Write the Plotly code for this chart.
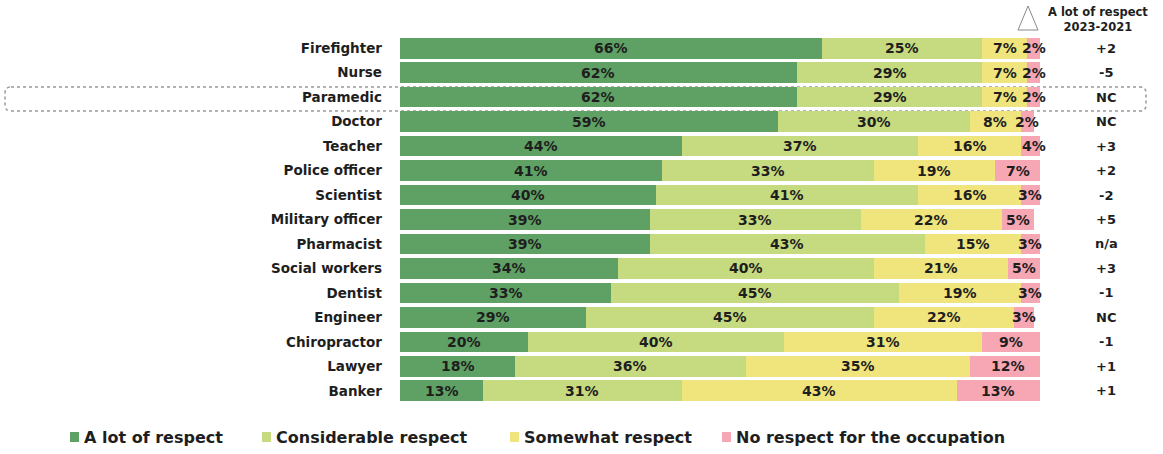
import plotly.graph_objects as go

occupations = ["Firefighter", "Nurse", "Paramedic", "Doctor", "Teacher", "Police officer",
               "Scientist", "Military officer", "Pharmacist", "Social workers", "Dentist",
               "Engineer", "Chiropractor", "Lawyer", "Banker"]
a_lot = [66, 62, 62, 59, 44, 41, 40, 39, 39, 34, 33, 29, 20, 18, 13]
considerable = [25, 29, 29, 30, 37, 33, 41, 33, 43, 40, 45, 45, 40, 36, 31]
somewhat = [7, 7, 7, 8, 16, 19, 16, 22, 15, 21, 19, 22, 31, 35, 43]
no_respect = [2, 2, 2, 2, 4, 7, 3, 5, 3, 5, 3, 3, 9, 12, 13]
change = ["+2", "-5", "NC", "NC", "+3", "+2", "-2", "+5", "n/a", "+3", "-1", "NC", "-1", "+1", "+1"]
series_names = ["A lot of respect", "Considerable respect", "Somewhat respect", "No respect for the occupation"]
header_lines = ["A lot of respect", "2023-2021"]

colors = ["#5fa164", "#c6da80", "#efe57c", "#f7a6b3"]
FONT = "DejaVu Sans"
TXT = "#1e1e1e"

# plot-area geometry in pixels
W, H = 1163, 454
L, R, T, B = 400, 123, 36, 51
PW, PH = W - L - R, H - T - B

def px(x):
    return (x - L) / PW

def py(y):
    return (H - B - y) / PH

fig = go.Figure()
series = [a_lot, considerable, somewhat, no_respect]
for name, vals, col in zip(series_names, series, colors):
    fig.add_trace(go.Bar(
        y=occupations, x=vals, name=name, orientation="h",
        marker=dict(color=col, line=dict(width=0)),
        hoverinfo="x+y+name", showlegend=False,
    ))

annotations = []
# segment labels
for i, occ in enumerate(occupations):
    cum = 0
    for vals in series:
        v = vals[i]
        annotations.append(dict(
            x=cum + v / 2, y=occ, xref="x", yref="y", text=f"<b>{v}%</b>",
            xanchor="center", yanchor="middle",
            showarrow=False, font=dict(family=FONT, size=14, color=TXT),
        ))
        cum += v
    annotations.append(dict(
        x=px(1106), y=occ, xref="paper", yref="y", text=f"<b>{change[i]}</b>",
        xanchor="center", yanchor="middle",
        showarrow=False, font=dict(family=FONT, size=13, color=TXT),
    ))

annotations.append(dict(
    x=px(1098), y=py(19), xref="paper", yref="paper",
    xanchor="center", yanchor="middle",
    text="<b>" + "<br>".join(header_lines) + "</b>", showarrow=False,
    font=dict(family=FONT, size=11.5, color=TXT), align="center",
))

shapes = []
# legend (squares + labels)
leg_x = [70, 262, 510, 722]
leg_y = 437
for name, col, lx in zip(series_names, colors, leg_x):
    shapes.append(dict(type="rect", xref="paper", yref="paper",
                       x0=px(lx), x1=px(lx + 9), y0=py(leg_y + 5), y1=py(leg_y - 5),
                       fillcolor=col, line=dict(width=0)))
    annotations.append(dict(x=px(lx + 12), y=py(leg_y), xref="paper", yref="paper",
                            xanchor="left", yanchor="middle", text=f"<b>{name}</b>",
                            showarrow=False, font=dict(family=FONT, size=16, color=TXT)))

# triangle (delta)
tx0, tx1, tyt, tyb = 1018, 1038, 6, 30
shapes.append(dict(
    type="path", xref="paper", yref="paper",
    path=f"M {px((tx0+tx1)/2)} {py(tyt)} L {px(tx1)} {py(tyb)} L {px(tx0)} {py(tyb)} Z",
    line=dict(color="#888", width=1), fillcolor="rgba(0,0,0,0)",
))
# rounded highlight box around Paramedic row
bx0, bx1, by0, by1, r = 5, 1146, 87, 111, 6
rx, ry = r / PW, r / PH
X0, X1, Y0, Y1 = px(bx0), px(bx1), py(by0), py(by1)
path = (f"M {X0+rx} {Y0} L {X1-rx} {Y0} Q {X1} {Y0} {X1} {Y0-ry} "
        f"L {X1} {Y1+ry} Q {X1} {Y1} {X1-rx} {Y1} "
        f"L {X0+rx} {Y1} Q {X0} {Y1} {X0} {Y1+ry} "
        f"L {X0} {Y0-ry} Q {X0} {Y0} {X0+rx} {Y0} Z")
shapes.append(dict(type="path", xref="paper", yref="paper", path=path,
                   line=dict(color="#999", width=1.5, dash="dot"),
                   fillcolor="rgba(0,0,0,0)", layer="below"))

fig.update_layout(
    barmode="stack", bargap=0.16,
    width=W, height=H,
    margin=dict(l=L, r=R, t=T, b=B, autoexpand=False),
    paper_bgcolor="white", plot_bgcolor="white",
    font=dict(family=FONT, color=TXT),
    xaxis=dict(range=[0, 100], visible=False, fixedrange=True, automargin=False),
    yaxis=dict(autorange="reversed", showgrid=False, showline=False, ticks="",
               automargin=False, ticklabelstandoff=17,
               tickfont=dict(family=FONT, size=13.5, color=TXT, weight="bold")),
    annotations=annotations,
    shapes=shapes,
    showlegend=False,
)

fig.write_html("out.html", config={"displayModeBar": False},
               post_script="document.body.style.margin='0px';document.body.style.overflow='hidden';")
